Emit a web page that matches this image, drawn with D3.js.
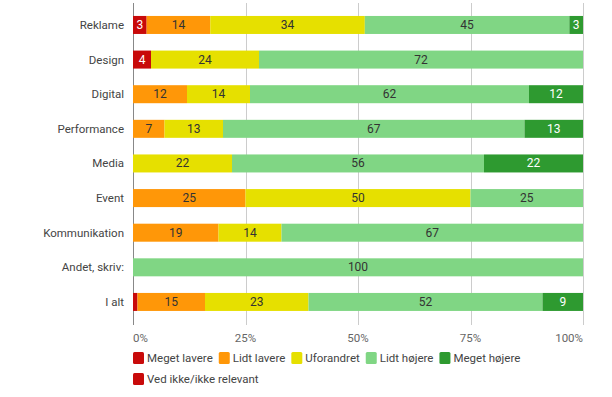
<html>
<head>
<meta charset="utf-8">
<script src="https://d3js.org/d3.v7.min.js"></script>
<style>
  body { margin: 0; background: #fff; }
  text { font-family: Roboto, "Noto Sans", sans-serif; }
</style>
</head>
<body>
<script>
var width = 612, height = 397;

// data
var categories = ["Reklame", "Design", "Digital", "Performance", "Media", "Event", "Kommunikation", "Andet, skriv:", "I alt"];
var seriesNames = ["Meget lavere", "Lidt lavere", "Uforandret", "Lidt højere", "Meget højere", "Ved ikke/ikke relevant"];
var megetLavere = [3, 4, 0, 0, 0, 0, 0, 0, 1];
var lidtLavere  = [14, 0, 12, 7, 0, 25, 19, 0, 15];
var uforandret  = [34, 24, 14, 13, 22, 50, 14, 0, 23];
var lidtHojere  = [45, 72, 62, 67, 56, 25, 67, 100, 52];
var megetHojere = [3, 0, 12, 13, 22, 0, 0, 0, 9];
var vedIkke     = [0, 0, 0, 0, 0, 0, 0, 0, 0];
var tickValues = [0, 0.25, 0.5, 0.75, 1];

var colors = ["#c80a0a", "#ff9708", "#e6e000", "#80d684", "#2e9a30", "#c80a0a"];
var labelColors = ["#fff", "#333", "#333", "#333", "#fff", "#fff"];

var allSeries = [megetLavere, lidtLavere, uforandret, lidtHojere, megetHojere, vedIkke];
var rows = categories.map(function(c, i) {
  var r = { cat: c };
  seriesNames.forEach(function(s, j) { r[s] = allSeries[j][i]; });
  return r;
});

var stacked = d3.stack()
  .keys(seriesNames)
  .offset(d3.stackOffsetExpand)(rows);

var svg = d3.select("body").append("svg")
  .attr("width", width)
  .attr("height", height);

var x = d3.scaleLinear().domain([0, 1]).range([133, 583]);
var y = d3.scaleBand().domain(categories).range([7.3, 319.6])
  .paddingInner(0.48).paddingOuter(0.25);

// gridlines
svg.append("g").selectAll("line")
  .data(tickValues)
  .enter().append("line")
  .attr("x1", function(d) { return Math.round(x(d)) + 0.5; })
  .attr("x2", function(d) { return Math.round(x(d)) + 0.5; })
  .attr("y1", 3)
  .attr("y2", 325)
  .attr("stroke", function(d) { return d === 0 ? "#888" : "#ccc"; })
  .attr("stroke-width", 1);

// tick labels
svg.append("g").selectAll("text")
  .data(tickValues)
  .enter().append("text")
  .attr("x", function(d) { return x(d); })
  .attr("y", 342)
  .attr("text-anchor", function(d) { return d === 0 ? "start" : d === 1 ? "end" : "middle"; })
  .attr("font-size", 11.5)
  .attr("fill", "#666")
  .text(function(d) { return Math.round(d * 100) + "%"; });

// category labels
svg.append("g").selectAll("text")
  .data(categories)
  .enter().append("text")
  .attr("x", 124)
  .attr("y", function(d) { return y(d) + y.bandwidth() / 2 + 4; })
  .attr("text-anchor", "end")
  .attr("font-size", 11.5)
  .attr("fill", "#444")
  .text(function(d) { return d; });

// bars
var layer = svg.append("g").selectAll("g")
  .data(stacked)
  .enter().append("g")
  .attr("fill", function(d, i) { return colors[i]; });

layer.selectAll("rect")
  .data(function(d) { return d; })
  .enter().append("rect")
  .attr("x", function(d) { return x(d[0]); })
  .attr("y", function(d) { return y(d.data.cat); })
  .attr("width", function(d) { return x(d[1]) - x(d[0]); })
  .attr("height", y.bandwidth());

// value labels
stacked.forEach(function(s, i) {
  svg.append("g").selectAll("text")
    .data(s.filter(function(d) { return x(d[1]) - x(d[0]) > 10; }))
    .enter().append("text")
    .attr("x", function(d) { return (x(d[0]) + x(d[1])) / 2; })
    .attr("y", function(d) { return y(d.data.cat) + y.bandwidth() / 2 + 4; })
    .attr("text-anchor", "middle")
    .attr("font-size", 12)
    .attr("fill", labelColors[i])
    .text(function(d) { return d.data[s.key]; });
});

// legend
var legend = svg.append("g");
var lx = 133, ly = 358;
seriesNames.forEach(function(name, i) {
  if (i === 5) { lx = 133; ly = 379; }
  var g = legend.append("g");
  g.append("rect")
    .attr("x", lx).attr("y", ly - 6)
    .attr("width", 11).attr("height", 12)
    .attr("rx", 1.5)
    .attr("fill", colors[i]);
  var t = g.append("text")
    .attr("x", lx + 14).attr("y", ly + 4)
    .attr("font-size", 11.5)
    .attr("fill", "#444")
    .text(name);
  lx += 14 + t.node().getComputedTextLength() + 6;
});
</script>
</body>
</html>
